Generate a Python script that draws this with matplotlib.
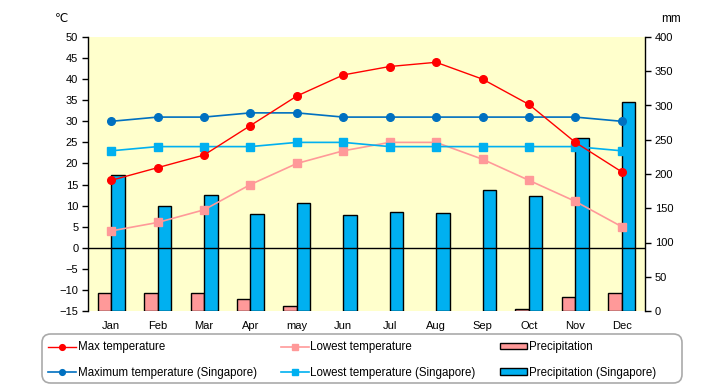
import matplotlib
matplotlib.use("Agg")
import matplotlib.pyplot as plt
from matplotlib.patches import FancyBboxPatch
import numpy as np

plt.rcParams['font.family'] = ['Liberation Sans', 'DejaVu Sans']

months = ["Jan", "Feb", "Mar", "Apr", "may", "Jun", "Jul", "Aug", "Sep", "Oct", "Nov", "Dec"]
max_temp = [16, 19, 22, 29, 36, 41, 43, 44, 40, 34, 25, 18]
low_temp = [4, 6, 9, 15, 20, 23, 25, 25, 21, 16, 11, 5]
precip = [26, 27, 27, 17.5, 7, 0, 0, 0, 0, 2.5, 20, 26]
sg_max = [30, 31, 31, 32, 32, 31, 31, 31, 31, 31, 31, 30]
sg_low = [23, 24, 24, 24, 25, 25, 24, 24, 24, 24, 24, 23]
sg_precip = [198, 154, 170, 141, 157, 140, 144, 143, 176, 168, 252, 305]
temp_ticks = list(range(-15, 51, 5))
precip_ticks = list(range(0, 401, 50))

RED = "#FF0000"
PINK = "#FF9999"
DBLUE = "#0070C0"
LBLUE = "#00B0F0"
BG = "#FFFFCC"

fig = plt.figure(figsize=(7.2, 3.85), dpi=100)
ax = fig.add_axes([88/720, 1-311/385, 557/720, 274/385])
ax.set_facecolor(BG)
x = np.arange(len(months))
w = 0.29
b1 = ax.bar(x - w/2, precip, width=w, color=PINK, edgecolor="black", linewidth=1, label="Precipitation", zorder=2)
for r, v in zip(b1.patches, precip):
    if v == 0:
        r.set_linewidth(0)
b2 = ax.bar(x + w/2, sg_precip, width=w, color=LBLUE, edgecolor="black", linewidth=1, label="Precipitation (Singapore)", zorder=2)
ax.set_ylim(0, 400)
ax.set_xlim(-0.5, 11.5)
ax.set_xticks(x)
ax.set_xticklabels(months)
ax.tick_params(axis='x', length=0, labelsize=8, pad=7)

ax2 = ax.twinx()
ax2.patch.set_visible(False)
ax2.set_ylim(-15, 50)
ax2.yaxis.tick_left()
ax2.set_yticks(temp_ticks)
ax2.tick_params(axis='y', direction='out', length=4, width=1, labelsize=8, pad=3)
for s in ["top", "bottom", "right"]:
    ax2.spines[s].set_visible(False)
ax2.spines["left"].set_linewidth(1)
ax2.axhline(0, color="black", linewidth=1, zorder=1)

ax.yaxis.tick_right()
ax.set_yticks(precip_ticks)
ax.tick_params(axis='y', direction='out', length=4, width=1, labelsize=8, pad=3)
for s in ["top", "bottom", "left"]:
    ax.spines[s].set_visible(False)
ax.spines["right"].set_linewidth(1)

l1, = ax2.plot(x, max_temp, color=RED, marker="o", markersize=5.5, linewidth=1, label="Max temperature", zorder=4)
l3, = ax2.plot(x, low_temp, color=PINK, marker="s", markersize=5.5, linewidth=1.2, label="Lowest temperature", zorder=3)
l2, = ax2.plot(x, sg_max, color=DBLUE, marker="o", markersize=5.5, linewidth=1.2, label="Maximum temperature (Singapore)", zorder=3)
l4, = ax2.plot(x, sg_low, color=LBLUE, marker="s", markersize=5.5, linewidth=1.2, label="Lowest temperature (Singapore)", zorder=3)

fig.text(62/720, 1-19/385, "℃", fontsize=8.5, ha="center", va="center", family=['DejaVu Sans'])
fig.text(671/720, 1-19/385, "mm", fontsize=8.5, ha="center", va="center")

frame = FancyBboxPatch((42/720, 2/385), 640/720, 49/385,
                       boxstyle="round,pad=0,rounding_size=0.012",
                       transform=fig.transFigure, facecolor="white",
                       edgecolor="#AAAAAA", linewidth=1.2, mutation_aspect=720/385)
fig.patches.append(frame)

leg = fig.legend(handles=[l1, l2, l3, l4, b1, b2], ncol=3, loc="upper left",
                 bbox_to_anchor=(46/720, 1-339/385), frameon=False, fontsize=8.3,
                 handlelength=2.4, handletextpad=0.15, columnspacing=2.1,
                 labelspacing=1.15, markerscale=0.75, borderpad=0.2, borderaxespad=0,
                 handleheight=0.45)

fig.savefig("out.png", dpi=100)
